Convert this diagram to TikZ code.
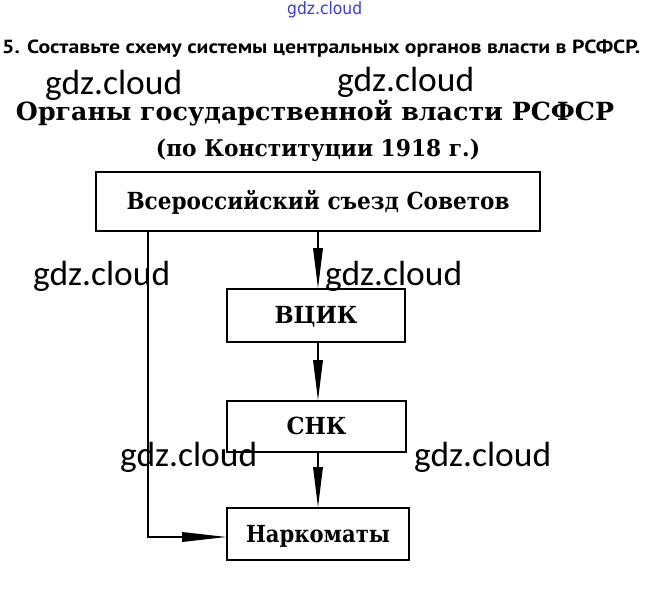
\documentclass[tikz,border=0pt]{standalone}
\usepackage{fontspec}
\usepackage{graphicx}
\setmainfont{DejaVu Serif}
\newfontfamily\qfont{PT Sans}
\newfontfamily\wmfont{Carlito}
\newfontfamily\bluefont{DejaVu Sans}
\usetikzlibrary{arrows.meta}
\definecolor{wmblue}{RGB}{60,60,205}
\newcommand{\fitw}[2]{\resizebox{#1}{\height}{#2}}
\tikzset{
  box/.style={draw, line width=1.6pt, rectangle, inner sep=0pt, text height=17pt, text depth=0pt, font=\bfseries\fontsize{23.5}{23.5}\selectfont},
  link/.style={line width=1.6pt, -{Triangle[length=40pt,width=10pt,line width=0pt]}},
  wm/.style={anchor=base west, inner sep=0pt, font=\wmfont\fontsize{35}{35}\selectfont},
}
\begin{document}
\begin{tikzpicture}[x=1pt,y=-1pt]
\useasboundingbox (0,0) rectangle (648,593);
\fill[white] (0,0) rectangle (648,593);

% blue watermark
\node[anchor=base west, inner sep=0pt, text=wmblue, font=\bluefont\fontsize{17}{17}\selectfont] (wb) at (287,15) {\fitw{75pt}{gdz.cloud}};

% question
\node[anchor=base west, inner sep=0pt, font=\qfont\bfseries\fontsize{19}{19}\selectfont] (q) at (2,54) {\fitw{638pt}{5. Составьте схему системы центральных органов власти в РСФСР.}};

% title
\node[anchor=base, inner sep=0pt, font=\bfseries\fontsize{25}{25}\selectfont] (t1) at (315,121) {\fitw{598pt}{Органы государственной власти РСФСР}};
\node[anchor=base, inner sep=0pt, font=\bfseries\fontsize{23}{23}\selectfont] (t2) at (318,157) {\fitw{324pt}{(по Конституции 1918 г.)}};

% boxes
\node[box, minimum width=444pt, minimum height=59pt] (b1) at (318,201.5) {\fitw{383pt}{Всероссийский съезд Советов}};
\node[box, minimum width=178pt, minimum height=53pt] (vc) at (316,315.5) {\fitw{83pt}{ВЦИК}};
\node[box, minimum width=179pt, minimum height=51pt] (snk) at (316.5,426.5) {\fitw{60pt}{СНК}};
\node[box, minimum width=182pt, minimum height=52pt] (nk) at (318,534) {\fitw{144pt}{Наркоматы}};

% connectors
\draw[link] (b1.south) -- (b1.south |- vc.north);
\draw[link] (b1.south |- vc.south) -- (b1.south |- snk.north);
\draw[link] (b1.south |- snk.south) -- (b1.south |- nk.north);
\coordinate (lt) at ([xshift=53pt]b1.south west);
\draw[line width=1.6pt, -{Triangle[length=44pt,width=10pt,line width=0pt]}] (lt) |- ([yshift=-3pt]nk.west);

% watermarks
\node[wm] (w1) at (45,95) {\fitw{137pt}{gdz.cloud}};
\node[wm] (w2) at (337,92) {\fitw{137pt}{gdz.cloud}};
\node[wm] (w3) at (33,286) {\fitw{137pt}{gdz.cloud}};
\node[wm] (w4) at (325,286) {\fitw{137pt}{gdz.cloud}};
\node[wm] (w5) at (120,467) {\fitw{137pt}{gdz.cloud}};
\node[wm] (w6) at (414,467) {\fitw{137pt}{gdz.cloud}};
\end{tikzpicture}
\end{document}
